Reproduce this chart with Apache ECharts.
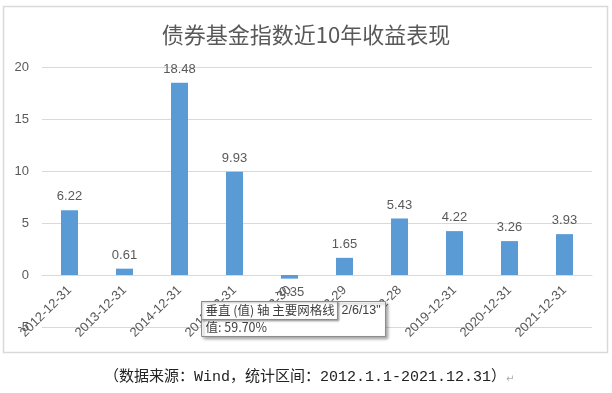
<!DOCTYPE html>
<html>
<head>
<meta charset="utf-8">
<script src="https://cdn.jsdelivr.net/npm/echarts@6/dist/echarts.min.js"></script>
<style>
  html, body { margin: 0; padding: 0; background: #fff; }
  #chart { width: 612px; height: 393px; }
</style>
</head>
<body>
<div id="chart"></div>
<script>
// 数据
const categories = ['2012-12-31', '2013-12-31', '2014-12-31', '2015-12-31', '2016-12-30',
                    '2017-12-29', '2018-12-28', '2019-12-31', '2020-12-31', '2021-12-31'];
const returns = [6.22, 0.61, 18.48, 9.93, -0.35, 1.65, 5.43, 4.22, 3.26, 3.93];
const yTicks = { min: -5, max: 20, interval: 5 };

const textColor = '#595959';
const latin = "'Liberation Sans', 'Noto Sans CJK SC', sans-serif";

const myChart = echarts.init(document.getElementById('chart'));

// 负值标签放在柱子下方
const barData = returns.map(v => ({
    value: v,
    label: { position: v < 0 ? 'bottom' : 'top' }
}));

const option = {
    backgroundColor: '#fff',
    animation: false,
    title: {
        text: '债券基金指数近10年收益表现',
        left: 'center',
        top: 19,
        textStyle: { fontSize: 22, fontWeight: 'normal', color: textColor, fontFamily: "'Noto Sans CJK SC', sans-serif" }
    },
    grid: { left: 42, right: 20, top: 67, bottom: 66 },
    xAxis: {
        type: 'category',
        data: categories,
        // 横轴标签贴在 0 线下方（Excel 默认），用 offset 把轴移到 0 处
        offset: -52,
        axisLine: { onZero: false, lineStyle: { color: '#d9d9d9' } },
        axisTick: { show: false },
        axisLabel: {
            rotate: 45, margin: 13, interval: 0,
            color: textColor, fontSize: 13, fontFamily: latin
        }
    },
    yAxis: {
        type: 'value',
        min: yTicks.min, max: yTicks.max, interval: yTicks.interval,
        axisLine: { show: false },
        axisTick: { show: false },
        axisLabel: { color: textColor, fontSize: 13, margin: 13, fontFamily: latin },
        splitLine: { lineStyle: { color: '#d9d9d9' } }
    },
    series: [{
        type: 'bar',
        data: barData,
        barWidth: 17,
        itemStyle: { color: '#5b9bd5' },
        label: {
            show: true, distance: 7,
            color: textColor, fontSize: 13, fontFamily: latin,
            formatter: p => p.value.toFixed(2)
        }
    }],
    graphic: [
        // 图表外框
        {
            type: 'rect', z: 0, silent: true,
            shape: { x: 3.5, y: 6.5, width: 604, height: 346 },
            style: { fill: 'none', stroke: '#d9d9d9', lineWidth: 1.5 }
        },
        // 悬停提示框
        {
            type: 'group', z: 100, left: 201, top: 301,
            children: [
                { type: 'rect', z: 100, shape: { x: 0, y: 0, width: 184, height: 35 },
                  style: { fill: '#fff', stroke: '#8c8c8c', lineWidth: 1,
                           shadowBlur: 3, shadowOffsetX: 2, shadowOffsetY: 2, shadowColor: 'rgba(0,0,0,0.35)' } },
                { type: 'rect', z: 101, shape: { x: 0, y: 0, width: 136, height: 18 },
                  style: { fill: '#fff', stroke: '#8c8c8c', lineWidth: 1,
                           shadowBlur: 2, shadowOffsetX: 1, shadowOffsetY: 1, shadowColor: 'rgba(0,0,0,0.3)' } },
                { type: 'text', z: 102, x: 4, y: 9,
                  style: { text: '垂直 (值) 轴 主要网格线', fill: '#404040', fontSize: 12.5,
                           fontFamily: "'Noto Sans CJK SC', sans-serif", verticalAlign: 'middle' } },
                { type: 'text', z: 102, x: 140, y: 9,
                  style: { text: '2/6/13"', fill: '#404040', fontSize: 12.5,
                           fontFamily: latin, verticalAlign: 'middle' } },
                { type: 'text', z: 102, x: 4, y: 26,
                  style: { text: '值: 59.70%', fill: '#404040', fontSize: 12.5,
                           fontFamily: "'Noto Sans CJK SC', sans-serif", verticalAlign: 'middle' } }
            ]
        },
        // 数据来源
        {
            type: 'text', z: 10, left: 104, top: 370,
            style: { text: '（数据来源：Wind，统计区间：2012.1.1-2021.12.31）', fill: '#222', fontSize: 15,
                     fontFamily: "'Liberation Mono', 'Noto Sans CJK SC', monospace" }
        },
        {
            type: 'text', z: 10, left: 506, top: 374,
            style: { text: '↵', fill: '#aaa', fontSize: 10, fontFamily: "'DejaVu Sans', sans-serif" }
        }
    ]
};

myChart.setOption(option);
window.addEventListener('resize', () => myChart.resize());
</script>
</body>
</html>
